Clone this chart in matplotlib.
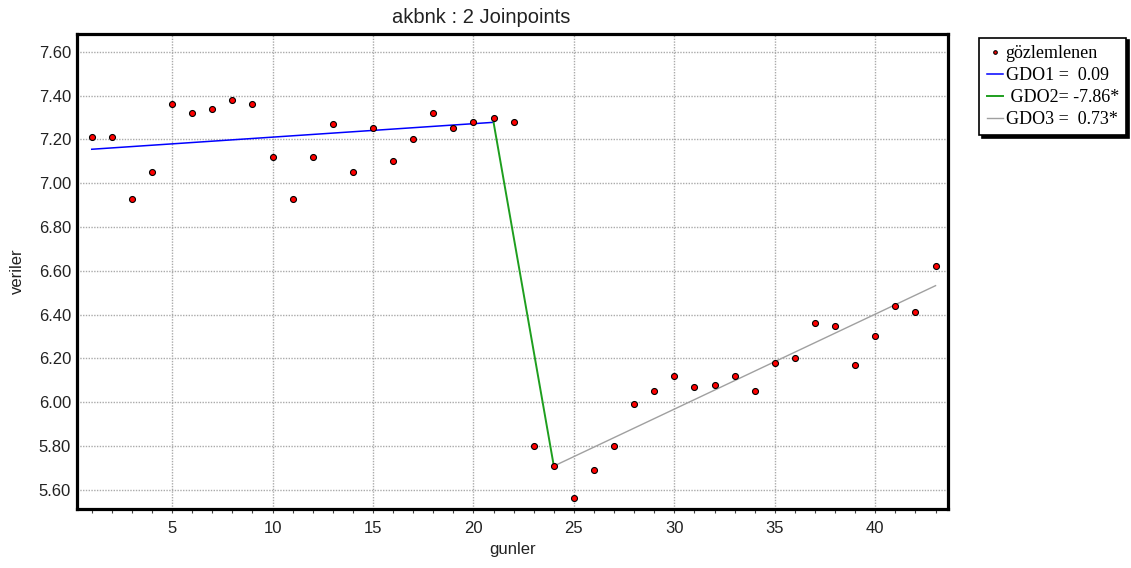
import numpy as np
import matplotlib
matplotlib.use("Agg")
import matplotlib.pyplot as plt

# gozlemlenen veriler (gun, deger)
gunler = list(range(1, 44))
veriler = [7.21, 7.21, 6.93, 7.05, 7.36, 7.32, 7.34, 7.38, 7.36, 7.12,
           6.93, 7.12, 7.27, 7.05, 7.25, 7.10, 7.20, 7.32, 7.25, 7.28,
           7.30, 7.28, 5.80, 5.71, 5.56, 5.69, 5.80, 5.99, 6.05, 6.12,
           6.07, 6.08, 6.12, 6.05, 6.18, 6.20, 6.36, 6.35, 6.17, 6.30,
           6.44, 6.41, 6.62]

# joinpoint modeli (kirilma noktalari)
jp_x = [1, 21, 24, 43]
jp_y = [7.155, 7.278, 5.708, 6.532]
seg_renk = ["#0000ff", "#1e9e1e", "#a0a0a0"]
seg_kalinlik = [1.1, 1.4, 1.0]
etiketler = ["GDO1 =  0.09", " GDO2= -7.86*", "GDO3 =  0.73*"]

plt.rcParams['font.family'] = ['Liberation Sans', 'DejaVu Sans']
fig = plt.figure(figsize=(11.31, 5.68), dpi=100)
ax = fig.add_axes([0.0678, 0.1039, 0.7704, 0.8357])

for i in range(3):
    ax.plot(jp_x[i:i + 2], jp_y[i:i + 2], "-", color=seg_renk[i],
            linewidth=seg_kalinlik[i], label=etiketler[i], zorder=2)
ax.plot(gunler, veriler, "o", ms=4.3, mfc="#ff0000", mec="black", mew=0.8,
        label="gözlemlenen", zorder=3)

ax.set_xlim(0.25, 43.62)
ax.set_ylim(5.512, 7.68)
ax.set_xticks(np.arange(5, 45, 5))
ax.set_xticks(np.arange(1, 44, 1), minor=True)
ax.set_yticks(np.arange(5.6, 7.61, 0.2))
ax.yaxis.set_major_formatter(matplotlib.ticker.FormatStrFormatter('%.2f'))
ax.tick_params(axis='x', which='both', length=3, width=0.8, colors='#444444',
               labelcolor='#222222', labelsize=12, pad=6)
ax.tick_params(axis='y', which='both', length=0, labelcolor='#222222',
               labelsize=12, pad=4)
ax.grid(True, which='major', linestyle=(0, (1, 1)), color='#aaaaaa', linewidth=1.0)
for s in ax.spines.values():
    s.set_linewidth(2.3)
    s.set_color('black')

ax.set_title("akbnk : 2 Joinpoints", fontsize=14.5, color='#222222', pad=8, x=0.464)
ax.set_xlabel("gunler", fontsize=12, color='#222222', labelpad=4)
ax.set_ylabel("veriler", fontsize=12, color='#222222', labelpad=10)

h, l = ax.get_legend_handles_labels()
sira = [3, 0, 1, 2]
leg = ax.legend([h[i] for i in sira], [l[i] for i in sira],
                loc='upper left', bbox_to_anchor=(1.036, 0.993), frameon=True,
                fancybox=False, shadow={'color': 'black', 'alpha': 1},
                edgecolor='black', framealpha=1, handlelength=0.9,
                handletextpad=0.15, labelspacing=0.28, borderpad=0.4,
                borderaxespad=0.0, markerscale=0.6,
                prop={'family': 'Liberation Serif', 'size': 13})
leg.get_frame().set_linewidth(1.2)

plt.savefig("out.png", dpi=100)
